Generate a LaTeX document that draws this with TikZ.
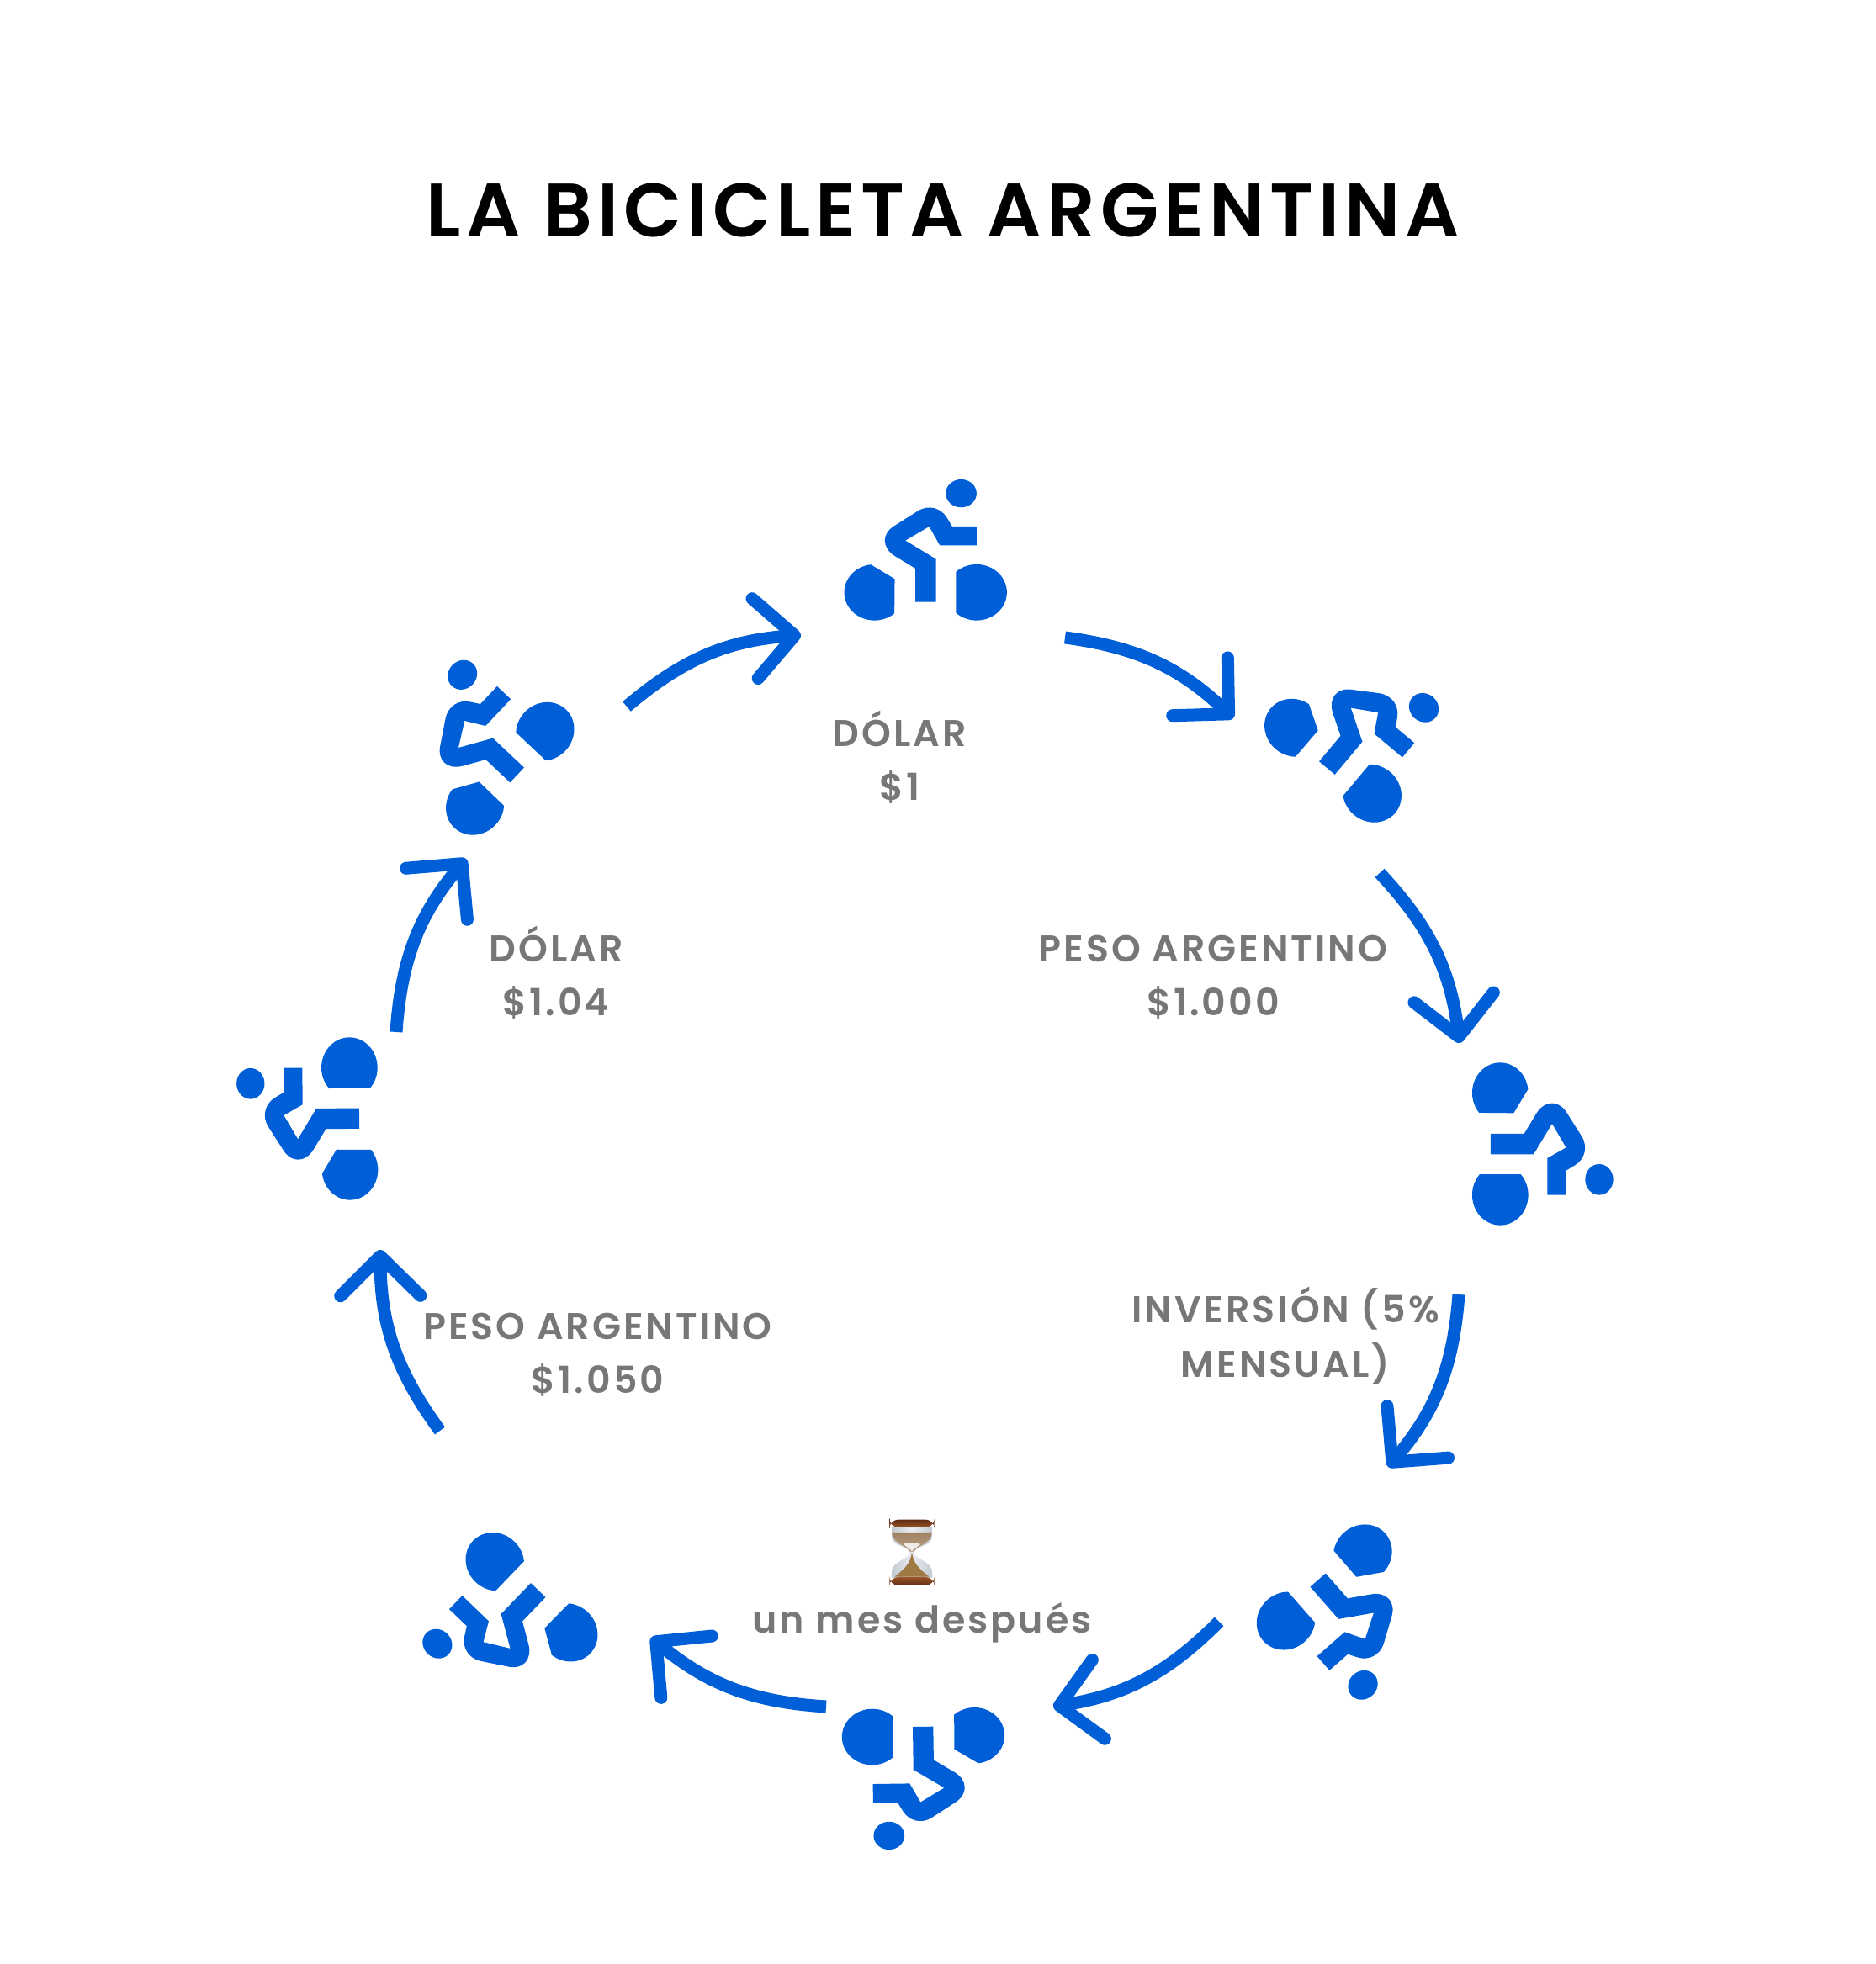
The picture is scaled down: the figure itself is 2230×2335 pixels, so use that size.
\documentclass[tikz,border=0pt]{standalone}
\usepackage{fontspec}
\setmainfont{Poppins}
\newfontfamily\titlefont[LetterSpace=6.7]{Poppins SemiBold}
\newfontfamily\labelfont[LetterSpace=6.8]{Poppins SemiBold}
\usepackage{xcolor}
\usetikzlibrary{arrows.meta}
\definecolor{riderblue}{HTML}{005FD7}
\definecolor{labelgray}{HTML}{777777}
\definecolor{woodbrown}{HTML}{9A5428}
\definecolor{wooddark}{HTML}{5E2D14}
\definecolor{sandbrown}{HTML}{9F8262}
\definecolor{sandlight}{HTML}{B79F83}
\definecolor{heapbrown}{HTML}{A07A45}
\definecolor{glassgray}{HTML}{C3CAD4}
\tikzset{
  rider/.pic={
    \fill[riderblue, scale=1/3]
      (127,353) ellipse [x radius=55, y radius=50]
      (182,235) -- (182,168) -- (51,168) -- (13,235) -- (-72,185) -- (37,119) -- (37,-34) -- (-36,-34) -- (-36,85)
      -- (-110,130) .. controls (-157,160) and (-157,210) .. (-110,238) -- (-28,290)
      .. controls (12,315) and (55,300) .. (75,268) -- (95,235) -- cycle
      (-182,0) ++(97:108 and 100) arc [start angle=97, end angle=311, x radius=108, y radius=100] -- (-110,48) -- cycle
      (182,0) ++(133:108 and 100) arc [start angle=133, end angle=-133, x radius=108, y radius=100] -- cycle;
  },
  hourglass/.pic={
    \begin{scope}[scale=1/3]
      \shade[left color=glassgray, right color=glassgray, middle color=glassgray!35] (-72,92) -- (-72,60) .. controls (-72,20) and (-12,25) .. (-8,0)
        .. controls (-12,-25) and (-72,-30) .. (-72,-70) -- (-72,-90) -- (72,-90) -- (72,-70)
        .. controls (72,-30) and (12,-25) .. (8,0) .. controls (12,25) and (72,20) .. (72,60) -- (72,92) -- cycle;
      \shade[top color=sandbrown, bottom color=sandlight] (-71,72) .. controls (-70,30) and (-15,25) .. (-8,4) -- (8,4) .. controls (15,25) and (70,30) .. (71,72) -- cycle;
      \fill[white!85!sandbrown] (-30,30) .. controls (-15,38) and (15,38) .. (30,30) .. controls (18,20) and (8,14) .. (0,6) .. controls (-8,14) and (-18,20) .. (-30,30) -- cycle;
      \fill[heapbrown] (0,6) .. controls (3,-40) and (30,-60) .. (62,-86) -- (-62,-86) .. controls (-30,-60) and (-3,-40) .. (0,6) -- cycle;
      \shade[rounded corners=3pt, top color=wooddark, bottom color=woodbrown] (-80,90) rectangle (80,118);
      \shade[rounded corners=3pt, top color=woodbrown, bottom color=wooddark] (-80,-117) rectangle (80,-87);
    \end{scope}
  },
}

\begin{document}
\begin{tikzpicture}[
    x=0.01cm, y=0.01cm,
    arr/.style={-{Straight Barb[length=.47cm, width=.95cm, round]}, line width=.15cm, riderblue, bend left=18},
    lbl/.style={font=\labelfont\fontsize{12.6}{18.3}\selectfont, text=labelgray, align=center, inner sep=0pt},
  ]
    \useasboundingbox (0,0) rectangle (2230,2335);

    % Title
    \node[font=\titlefont\fontsize{25.6}{32}\selectfont, text=black, inner sep=0pt] (title) at (1121,2085) {LA BICICLETA ARGENTINA};

    % Riders
    \pic[rotate=0] at (1100.2,1630.7) {rider};
    \pic[rotate=-40] at (1584.5,1430.7) {rider};
    \pic[rotate=-90] at (1783.3,975) {rider};
    \pic[rotate=-138.7] at (1574.2,448) {rider};
    \pic[rotate=-179.2] at (1097.5,270.8) {rider};
    \pic[rotate=-223.9] at (632,436.2) {rider};
    \pic[rotate=-269.7] at (415.7,1005) {rider};
    \pic[rotate=-313.3] at (606.3,1421.2) {rider};

    % Arrow ends
    \coordinate (a1) at (1266,1577);
    \coordinate (b1) at (1466,1481);
    \coordinate (a2) at (1640,1297);
    \coordinate (b2) at (1735,1095);
    \coordinate (a3) at (1734,796);
    \coordinate (b3) at (1650,591);
    \coordinate (a4) at (1449,407);
    \coordinate (b4) at (1252,306);
    \coordinate (a5) at (982,306);
    \coordinate (b5) at (774,388);
    \coordinate (a6) at (523,634);
    \coordinate (b6) at (452,849);
    \coordinate (a7) at (471,1108);
    \coordinate (b7) at (554,1314);
    \coordinate (a8) at (745,1495);
    \coordinate (b8) at (952,1580);

    \foreach \i in {1,...,8}
      \draw[arr] (a\i) to (b\i);

    % Labels
    \node[lbl] (dolar) at (1069.5,1435) {DÓLAR\\\$1};
    \node[lbl] (peso) at (1442,1173) {PESO ARGENTINO\\\$1.000};
    \node[lbl] (inversion) at (1528,747) {INVERSIÓN (5\%\\MENSUAL)};
    \node[lbl] (despues) at (1096,406) {un mes después};
    \node[lbl] (pesofin) at (710.5,724.5) {PESO ARGENTINO\\\$1.050};
    \node[lbl] (dolarfin) at (661,1179) {DÓLAR\\\$1.04};

    % Hourglass
    \pic at (1084,489) {hourglass};

  \end{tikzpicture}
\end{document}
